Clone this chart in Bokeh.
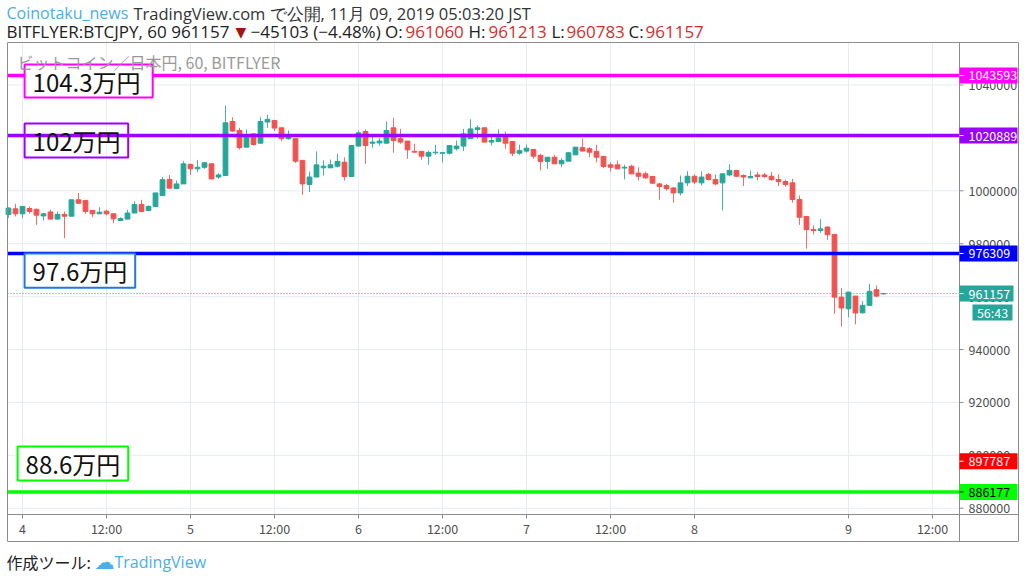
from bokeh.plotting import figure
from bokeh.models import Range1d, ColumnDataSource
from bokeh.core.properties import value
from bokeh.embed import file_html
from bokeh.resources import INLINE

# ---------------- data ----------------
# hourly candles; hour index 0 = Nov 4 00:00 (JST)
hours = list(range(-2, 124))
open_ = [991050, 993200, 991300, 993300, 993000, 990500, 992000, 989300, 991100, 990400,
         996600, 996300, 992600, 991300, 992300, 991300, 988800, 989300, 991600, 994800,
         992600, 994100, 998200, 1004300, 1000800, 1002600, 1010000, 1008300, 1008900, 1010200,
         1005200, 1005800, 1026200, 1022800, 1016500, 1021500, 1018000, 1026000, 1026600, 1023800,
         1019700, 1019700, 1011500, 1002400, 1005200, 1008700, 1008700, 1009300, 1010800, 1005400,
         1016900, 1022400, 1018000, 1018100, 1018000, 1023800, 1019700, 1018800, 1014900, 1014900,
         1013100, 1014400, 1014200, 1014200, 1015900, 1016900, 1019700, 1023200, 1023800, 1018400,
         1018600, 1020300, 1018600, 1014200, 1015000, 1015600, 1013400, 1011100, 1012700, 1010200,
         1011200, 1013600, 1016300, 1015900, 1014900, 1013000, 1009800, 1009800, 1008600, 1009300,
         1006700, 1006400, 1005400, 1002600, 1002000, 1001100, 999200, 1003000, 1005500, 1003000,
         1006200, 1004300, 1003000, 1006000, 1007700, 1005800, 1004900, 1006000, 1006000, 1005500,
         1004300, 1003500, 1003000, 996700, 990300, 985400, 985000, 986300, 983500, 959800,
         955400, 960200, 953900, 956700, 962600, 961060]
high = [993830, 995100, 994100, 994100, 993300, 991600, 992800, 992200, 992200, 996600,
        999200, 996600, 992600, 993800, 992800, 991300, 990000, 992800, 996000, 996600,
        994500, 999200, 1005200, 1006000, 1003900, 1011200, 1010200, 1011700, 1010800, 1010200,
        1006700, 1032200, 1027800, 1023800, 1023200, 1021800, 1027800, 1028700, 1026600, 1023800,
        1022800, 1019700, 1011500, 1007300, 1014900, 1011500, 1011800, 1014000, 1012600, 1017100,
        1022800, 1023200, 1021500, 1019900, 1026200, 1027600, 1023400, 1018800, 1017800, 1014900,
        1015200, 1017400, 1014400, 1017100, 1019000, 1023400, 1027000, 1024700, 1023800, 1021200,
        1023200, 1022400, 1018600, 1017400, 1017400, 1015600, 1014000, 1012700, 1013600, 1012300,
        1014400, 1016500, 1019700, 1016500, 1017400, 1013000, 1010800, 1011500, 1009800, 1009800,
        1008900, 1007300, 1005400, 1003000, 1002600, 1001400, 1005800, 1007400, 1006200, 1007400,
        1006800, 1006200, 1006400, 1010000, 1007900, 1006200, 1007700, 1007100, 1006700, 1007100,
        1006200, 1004200, 1004500, 998200, 990300, 986900, 989400, 986500, 983500, 963200,
        961700, 960200, 958300, 964800, 964200, 961213]
low = [989790, 990300, 989700, 991300, 987100, 988800, 989300, 989300, 982100, 990400,
       995100, 991300, 990000, 991300, 990700, 987800, 988800, 989300, 991600, 991900,
       992300, 993800, 998200, 1001000, 1000800, 1002600, 1006000, 1007100, 1008300, 1004300,
       1004500, 1005800, 1022200, 1015600, 1016500, 1017100, 1018000, 1023800, 1022600, 1018800,
       1019300, 1010500, 998500, 999500, 1005200, 1005800, 1008600, 1008900, 1003900, 1005400,
       1016900, 1010200, 1016300, 1017100, 1018000, 1014400, 1017800, 1012100, 1014600, 1011700,
       1009800, 1013600, 1010800, 1013700, 1015200, 1015000, 1019700, 1019700, 1018400, 1017100,
       1018400, 1015900, 1013100, 1013600, 1014400, 1012100, 1007700, 1008300, 1010200, 1008900,
       1011200, 1013600, 1015000, 1012700, 1010800, 1008600, 1007300, 1008300, 1004300, 1006400,
       1003900, 1004500, 1002600, 996600, 1000100, 995500, 998200, 1001800, 1002600, 1002000,
       1003900, 1002000, 992600, 1005500, 1005200, 1001800, 1004900, 1003900, 1004900, 1003900,
       1001800, 1001600, 995500, 987100, 978100, 983500, 984100, 981500, 953500, 948700,
       952200, 949500, 953500, 956700, 959800, 960783]
close = [993450, 991300, 994100, 992200, 990800, 991300, 989300, 991100, 990400, 996600,
         995300, 992200, 991300, 991900, 991300, 989400, 989500, 991600, 994800, 992200,
         994100, 999200, 1004200, 1001000, 1002600, 1010200, 1008300, 1008900, 1010600, 1004500,
         1006000, 1025700, 1022600, 1016300, 1021200, 1017500, 1026200, 1027000, 1023700, 1019700,
         1020300, 1011200, 1002600, 1005200, 1009800, 1009300, 1009800, 1011100, 1005400, 1017100,
         1021900, 1017100, 1018400, 1018800, 1022800, 1019000, 1018400, 1015500, 1014600, 1013100,
         1014500, 1014600, 1014400, 1017100, 1016900, 1021500, 1023400, 1023800, 1018400, 1019000,
         1020000, 1018000, 1014200, 1015200, 1016100, 1013100, 1011100, 1012700, 1010200, 1011500,
         1014400, 1016500, 1015000, 1014600, 1012700, 1009200, 1008900, 1008300, 1008900, 1006400,
         1005500, 1004900, 1002900, 1001600, 1000800, 999200, 1003000, 1005500, 1003300, 1005200,
         1004300, 1002600, 1006400, 1007700, 1005500, 1005200, 1005400, 1005400, 1005400, 1004200,
         1003500, 1002400, 996700, 990000, 985300, 985000, 985600, 983400, 959800, 955700,
         961700, 953800, 956700, 962000, 960200, 961157]

change_abs = -45103
change_pct = -4.48

x_tick_pos = [0, 12, 24, 36, 48, 60, 72, 84, 96, 118, 130]
x_tick_labels = ["4", "12:00", "5", "12:00", "6", "12:00", "7", "12:00", "8", "9", "12:00"]
y_ticks = [880000, 900000, 920000, 940000, 960000, 980000, 1000000, 1020000, 1040000]

# horizontal levels drawn by the author
level_prices = [1043593, 1020889, 976309, 886177]
level_colors = ["#ff00ff", "#9c00ff", "#0000ff", "#00ff00"]
level_text_colors = ["white", "white", "white", "black"]
alert_price = 897787          # price-scale label only
countdown = "56:43"

# text notes drawn by the author (box edges: hour index / price)
note_text = ["104.3万円", "102万円", "97.6万円", "88.6万円"]
note_left = [0.3, 0.3, 0.3, -0.7]
note_right = [18.6, 15.1, 16.1, 15.1]
note_top = [1047700, 1025400, 976300, 903300]
note_bottom = [1035300, 1012600, 963400, 890500]
note_border = ["#ff00ff", "#9c00ff", "#1e7bd8", "#00ff00"]
note_fill_alpha = [1.0, 0.0, 1.0, 1.0]

# ---------------- layout helpers (page pixels -> data) ----------------
W, H = 1020, 576
PX_HOUR = 7.0          # pixels per hourly bar
X_ORIGIN = 22.0        # pixel of hour 0
YEN_PX = 378.0         # yen per pixel
Y_1M = 190.3           # pixel row of 1,000,000


def X(px):
    return (px - X_ORIGIN) / PX_HOUR


def Y(py):
    return 1000000 + (Y_1M - py) * YEN_PX


UP = "#26a69a"
DOWN = "#ef5350"
GRID = "#e6ecf2"
FRAME = "#8c8c8c"
AXTXT = "#4f4f4f"
JP = "Noto Sans CJK JP"
HD = "Open Sans"
PANE_L, PANE_R, PANE_T, PANE_B = 7, 959, 42, 514
OUT_R, OUT_B = 1018, 541
SCALE_FS = "12.5px"

p = figure(width=W, height=H, x_range=Range1d(X(0), X(W)), y_range=Range1d(Y(H), Y(0)),
           x_axis_location=None, y_axis_location=None, output_backend="svg",
           toolbar_location=None, tools="", min_border=0)
p.outline_line_color = None
p.background_fill_color = "white"
p.border_fill_color = "white"
p.grid.visible = False


def txt(xs, ys, texts, color, size, font, align="left", baseline="middle"):
    p.text(x=xs, y=ys, text=texts, text_color=color, text_font=value(font),
           text_font_size=size, text_align=align, text_baseline=baseline)


# grid
p.segment(x0=x_tick_pos, x1=x_tick_pos, y0=[Y(PANE_T)] * len(x_tick_pos),
          y1=[Y(PANE_B)] * len(x_tick_pos), line_color=GRID, line_width=1)
p.segment(x0=[X(PANE_L)] * len(y_ticks), x1=[X(PANE_R)] * len(y_ticks), y0=y_ticks,
          y1=y_ticks, line_color=GRID, line_width=1)

# current price dotted line
p.segment(x0=[X(PANE_L)], x1=[X(PANE_R)], y0=[close[-1]], y1=[close[-1]],
          line_color=UP, line_width=1, line_dash="1 2")

# candles
colors = [UP if c >= o else DOWN for o, c in zip(open_, close)]
src = ColumnDataSource(dict(
    x=hours, h=high, l=low,
    top=[max(o, c) for o, c in zip(open_, close)],
    bottom=[min(o, c) for o, c in zip(open_, close)],
    color=colors))
p.segment(x0="x", y0="l", x1="x", y1="h", line_color="color", line_alpha=0.85, source=src)
p.vbar(x="x", width=0.68, top="top", bottom="bottom", fill_color="color",
       line_color="color", source=src)

# horizontal levels
n = len(level_prices)
p.segment(x0=[X(PANE_L)] * n, x1=[X(PANE_R)] * n, y0=level_prices, y1=level_prices,
          line_color=level_colors, line_width=3.5)

# note boxes
nsrc = ColumnDataSource(dict(
    left=note_left, right=note_right, top=note_top, bottom=note_bottom,
    border=note_border, fa=note_fill_alpha, text=note_text,
    ymid=[(a + b) / 2 for a, b in zip(note_top, note_bottom)]))
p.quad(left="left", right="right", top="top", bottom="bottom", fill_color="white",
       fill_alpha="fa", line_color="border", line_width=2, source=nsrc)
p.text(x="left", y="ymid", text="text", x_offset=8, text_baseline="middle",
       text_align="left", text_font=value(JP), text_font_size="24px",
       text_color="#111111", source=nsrc)

# pane title
txt([X(17)], [Y(61)], ["ビットコイン／日本円, 60, BITFLYER"], "#9a9a9a", "16px", JP)

# widget frame and scale separators
p.quad(left=[X(PANE_L)], right=[X(OUT_R)], top=[Y(PANE_T)], bottom=[Y(OUT_B)],
       fill_color=None, line_color=FRAME, line_width=1)
p.segment(x0=[X(PANE_R), X(PANE_L)], x1=[X(PANE_R), X(OUT_R)],
          y0=[Y(PANE_T), Y(PANE_B)], y1=[Y(OUT_B), Y(PANE_B)], line_color=FRAME, line_width=1)

# price scale ticks and labels
p.segment(x0=[X(PANE_R)] * len(y_ticks), x1=[X(PANE_R + 4)] * len(y_ticks),
          y0=y_ticks, y1=y_ticks, line_color=FRAME)
txt([X(968)] * len(y_ticks), y_ticks, [str(t) for t in y_ticks], AXTXT, SCALE_FS, JP)

# time scale ticks and labels
p.segment(x0=x_tick_pos, x1=x_tick_pos, y0=[Y(PANE_B)] * len(x_tick_pos),
          y1=[Y(PANE_B + 4)] * len(x_tick_pos), line_color=FRAME)
txt(x_tick_pos, [Y(528)] * len(x_tick_pos), x_tick_labels, AXTXT, SCALE_FS, JP,
    align="center")

# coloured price labels on the scale
lab_prices = level_prices + [alert_price, close[-1]]
lab_bg = level_colors + ["#ff0000", UP]
lab_fg = level_text_colors + ["white", "white"]
lab_right = [X(1017)] * (n + 1) + [X(1013)]
half = 8 * YEN_PX
p.quad(left=[X(PANE_R)] * len(lab_prices), right=lab_right,
       top=[v + half for v in lab_prices], bottom=[v - half for v in lab_prices],
       fill_color=lab_bg, line_color=None)
p.segment(x0=[X(PANE_R)] * len(lab_prices), x1=[X(PANE_R + 4)] * len(lab_prices),
          y0=lab_prices, y1=lab_prices, line_color=lab_fg)
for v, fg in zip(lab_prices, lab_fg):
    txt([X(968)], [v], [str(v)], fg, SCALE_FS, JP)
# countdown box under the last price
p.quad(left=[X(972)], right=[X(1012)], top=[Y(304)], bottom=[Y(320)],
       fill_color=UP, line_color=None)
txt([X(992)], [Y(312)], [countdown], "white", SCALE_FS, JP, align="center")

# header
RED = "#d0302c"
DARK = "#222222"
y1, y2 = Y(12.5), Y(31)
txt([X(6)], [y1], ["Coinotaku_news"], "#4aafe3", "16px", HD)
txt([X(133)], [y1], ["TradingView.com で公開, 11月 09, 2019 05:03:20 JST"], "#333333", "16.5px", HD)
txt([X(6)], [y2], [f"BITFLYER:BTCJPY, 60 {close[-1]}"], DARK, "17px", HD)
txt([X(235)], [y2], ["▼"], "#a31515", "14px", "DejaVu Sans")
txt([X(250)], [y2], [f"\u2212{abs(change_abs)} (\u2212{abs(change_pct):.2f}%) O:"], DARK, "17px", HD)
txt([X(405)], [y2], [f"{open_[-1]}"], RED, "17px", HD)
txt([X(468)], [y2], ["H:"], DARK, "17px", HD)
txt([X(488)], [y2], [f"{high[-1]}"], RED, "17px", HD)
txt([X(551)], [y2], ["L:"], DARK, "17px", HD)
txt([X(566)], [y2], [f"{low[-1]}"], RED, "17px", HD)
txt([X(628)], [y2], ["C:"], DARK, "17px", HD)
txt([X(645)], [y2], [f"{close[-1]}"], RED, "17px", HD)

# footer
yf = Y(561)
txt([X(6)], [yf], ["作成ツール:"], DARK, "16px", JP)
txt([X(94)], [yf], ["☁"], "#4aafe3", "20px", "DejaVu Sans")
txt([X(114)], [yf], ["TradingView"], "#4aafe3", "16px", HD)

open("out.html", "w").write(file_html(p, INLINE))
